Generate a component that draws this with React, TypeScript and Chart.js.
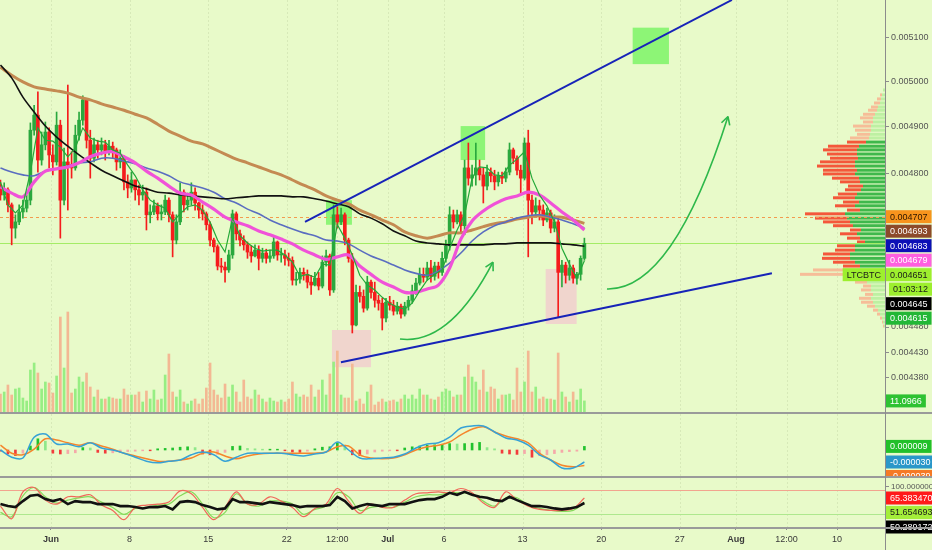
import React, { useEffect, useRef } from 'react';
import { Chart, registerables } from 'chart.js';

Chart.register(...registerables);

// ================= DATA =================
// x axis: days counted from 1 June
const xTickDays = [0, 7, 14, 21, 25.5, 30, 35, 42, 49, 56, 61, 65.5, 70];
const xTickLabels = ['Jun', '8', '15', '22', '12:00', 'Jul', '6', '13', '20', '27', 'Aug', '12:00', '10'];
const monthLabels = ['Jun', 'Jul', 'Aug'];
const viewDays = [-4.54, 74.27];

// 8-hour candles, prices in micro-BTC (1e-6 BTC)
const candleStartDay = -4.5;
const candleStepDays = 1 / 3;
const opens = [4774,
  4753,4764,4732,4683,4696,4717,4725,4742,4893,4926,
  4828,4861,4889,4839,4824,4904,4742,4824,4817,4811,
  4882,4915,4960,4871,4832,4861,4850,4861,4846,4858,
  4850,4824,4832,4781,4768,4785,4764,4753,4759,4711,
  4717,4730,4713,4717,4742,4711,4658,4696,4759,4732,
  4742,4759,4736,4721,4713,4690,4658,4644,4604,4602,
  4596,4627,4713,4671,4658,4648,4633,4625,4637,4620,
  4631,4620,4625,4654,4627,4627,4620,4616,4575,4577,
  4591,4587,4571,4565,4579,4563,4612,4625,4555,4711,
  4696,4711,4658,4620,4484,4550,4542,4518,4571,4550,
  4534,4528,4498,4530,4524,4512,4522,4506,4522,4534,
  4553,4569,4587,4581,4600,4583,4604,4591,4620,4646,
  4711,4696,4711,4688,4811,4789,4796,4811,4796,4772,
  4802,4794,4781,4794,4789,4802,4850,4832,4806,4789,
  4865,4742,4717,4730,4721,4700,4715,4683,4696,4591,
  4606,4585,4600,4579,4587,4620];
const highs = [
  4785,4779,4768,4736,4711,4732,4742,4753,4909,4948,
  4978,4889,4911,4898,4861,4933,4915,4854,4993,4846,
  4904,4933,4969,4960,4893,4876,4871,4876,4871,4871,
  4867,4854,4850,4837,4796,4802,4785,4774,4774,4768,
  4732,4742,4736,4732,4753,4747,4717,4711,4779,4764,
  4757,4779,4768,4738,4732,4717,4696,4662,4648,4620,
  4612,4637,4721,4717,4679,4667,4654,4646,4648,4646,
  4641,4639,4637,4667,4656,4641,4637,4631,4623,4591,
  4600,4600,4596,4585,4591,4591,4625,4637,4629,4732,
  4728,4725,4715,4662,4630,4565,4563,4555,4583,4575,
  4571,4544,4538,4538,4542,4534,4530,4526,4530,4542,
  4565,4579,4600,4600,4612,4616,4612,4612,4633,4658,
  4728,4721,4721,4717,4828,4865,4817,4865,4828,4811,
  4817,4811,4806,4802,4802,4811,4865,4854,4837,4817,
  4876,4893,4753,4747,4742,4732,4725,4721,4711,4704,
  4616,4612,4616,4606,4591,4625,4662];
const lows = [
  4742,4742,4717,4648,4662,4690,4704,4717,4732,4882,
  4802,4817,4850,4811,4796,4817,4662,4732,4721,4789,
  4806,4871,4904,4854,4789,4824,4832,4839,4828,4839,
  4832,4806,4811,4764,4747,4759,4742,4732,4742,4679,
  4694,4711,4700,4700,4711,4696,4623,4650,4690,4717,
  4721,4732,4721,4704,4700,4679,4646,4633,4596,4591,
  4571,4591,4620,4658,4646,4637,4620,4612,4623,4596,
  4612,4610,4612,4620,4616,4612,4606,4604,4565,4565,
  4569,4575,4559,4546,4563,4555,4559,4604,4544,4550,
  4683,4690,4648,4612,4468,4482,4530,4510,4514,4538,
  4520,4514,4474,4490,4514,4504,4506,4498,4502,4514,
  4528,4546,4565,4571,4575,4571,4575,4579,4585,4612,
  4637,4683,4692,4675,4669,4774,4772,4774,4785,4736,
  4764,4781,4764,4772,4777,4781,4796,4820,4796,4757,
  4785,4623,4692,4711,4700,4688,4696,4673,4675,4500,
  4561,4569,4575,4569,4567,4575,4616];
const closes = [
  4753,4764,4732,4683,4696,4717,4725,4742,4893,4926,
  4828,4861,4889,4839,4824,4904,4742,4824,4817,4811,
  4882,4915,4960,4871,4832,4861,4850,4861,4846,4858,
  4850,4824,4832,4781,4768,4785,4764,4753,4759,4711,
  4717,4730,4713,4717,4742,4711,4658,4696,4759,4732,
  4742,4759,4736,4721,4713,4690,4658,4644,4604,4602,
  4596,4627,4713,4671,4658,4648,4633,4625,4637,4620,
  4631,4620,4625,4654,4627,4627,4620,4616,4575,4577,
  4591,4587,4571,4565,4579,4563,4612,4625,4555,4711,
  4696,4711,4658,4620,4484,4550,4542,4518,4571,4550,
  4534,4528,4498,4530,4524,4512,4522,4506,4522,4534,
  4553,4569,4587,4581,4600,4583,4604,4591,4620,4646,
  4711,4696,4711,4688,4811,4789,4796,4811,4796,4772,
  4802,4794,4781,4794,4789,4802,4850,4832,4806,4789,
  4865,4742,4717,4730,4721,4700,4715,4683,4696,4591,
  4606,4585,4600,4579,4587,4620,4651];
const volumes = [
  18,20,27,17,23,24,14,11,42,49,
  39,23,30,29,19,36,95,44,100,19,
  23,35,30,39,25,15,22,13,13,15,
  14,13,13,23,17,17,17,20,10,21,
  13,22,12,13,37,58,20,15,22,10,
  8,11,13,8,13,24,49,22,17,14,
  28,15,27,20,10,32,15,13,22,17,
  13,10,14,11,10,12,10,13,30,18,
  15,17,15,27,15,22,32,17,38,50,
  61,17,14,14,48,11,13,8,20,27,
  7,10,13,10,11,12,10,13,17,13,
  17,13,23,17,17,13,12,15,20,23,
  21,15,17,17,35,47,35,30,22,42,
  20,25,23,13,17,17,18,12,44,20,
  30,61,20,25,13,15,13,13,12,59,
  20,15,10,20,12,23,11.0966];

// fast series sampled every 2 candles
const fastStartDay = -4.5;
const fastStepDays = 2 / 3;
const greenMa = [
  4781,4732,4715,4732,4802,4898,4871,4869,4856,4835,
  4854,4898,4876,4869,4867,4850,4843,4817,4794,4764,
  4742,4732,4725,4696,4713,4728,4732,4721,4696,4658,
  4633,4704,4667,4652,4641,4635,4637,4637,4627,4612,
  4583,4587,4581,4608,4606,4690,4662,4627,4585,4565,
  4555,4540,4528,4520,4516,4528,4553,4575,4587,4596,
  4641,4679,4711,4789,4813,4811,4796,4794,4817,4830,
  4846,4789,4753,4730,4696,4641,4608,4579,4615];
const macdHist = [
  -3,-10,-14,-8,10,28,22,-8,-10,-9,
  -7,6,5,-6,-8,-7,-6,-4,-3,-2,
  -2,3,4,5,7,8,6,-10,-12,-11,
  -6,9,10,4,3,2,2,2,-2,-5,
  -6,-3,3,7,8,18,12,-12,-14,-10,
  -5,-3,-2,-2,5,8,10,12,13,14,
  16,15,16,17,19,6,3,-8,-10,-11,
  -9,-18,-14,-12,-9,-6,-4,-3,9];
const rsiLine = [
  47,41,38,56,72,75,62,56,62,47,
  56,53,53,47,47,47,41,41,38,34,
  38,38,41,31,53,56,53,44,38,31,
  34,62,53,53,50,47,53,50,47,44,
  38,41,41,41,44,69,56,34,41,47,
  44,41,47,47,47,53,59,62,62,69,
  81,75,84,75,69,66,59,56,69,59,
  50,41,41,38,34,31,34,38,50.289172];

// slow series sampled daily
const slowStartDay = -4.5;
const slowStepDays = 1;
const pinkMa = [
  4770,4757,4749,4781,4804,4809,4813,4822,4835,4843,
  4846,4835,4822,4804,4789,4772,4757,4753,4738,4723,
  4706,4696,4688,4677,4669,4660,4650,4637,4627,4618,
  4623,4627,4604,4587,4571,4561,4550,4550,4557,4565,
  4600,4660,4698,4719,4734,4745,4751,4759,4753,4736,
  4717,4700,4679];
const blueMa = [
  4811,4802,4796,4794,4804,4809,4815,4822,4824,4832,
  4832,4826,4820,4811,4804,4794,4781,4774,4768,4759,
  4745,4736,4723,4713,4700,4690,4681,4673,4667,4658,
  4656,4650,4637,4625,4616,4606,4596,4589,4585,4594,
  4610,4631,4656,4675,4688,4696,4704,4709,4711,4706,
  4700,4692,4683];
const blackMa = [
  5038,5009,4966,4933,4902,4878,4858,4839,4822,4806,
  4794,4783,4772,4766,4759,4757,4753,4751,4749,4747,
  4745,4747,4749,4751,4751,4751,4749,4749,4745,4740,
  4734,4728,4713,4704,4692,4677,4667,4656,4652,4650,
  4648,4648,4648,4648,4650,4650,4652,4652,4652,4652,
  4650,4648,4645];
const brownMa = [
  5033,5015,5000,4989,4984,4980,4975,4966,4960,4951,
  4944,4937,4928,4920,4906,4891,4880,4869,4863,4852,
  4841,4830,4822,4813,4804,4796,4785,4774,4764,4751,
  4742,4734,4721,4711,4700,4690,4675,4667,4662,4667,
  4673,4673,4679,4686,4692,4696,4702,4706,4709,4706,
  4706,4700,4693];
const macdLine = [
  0,-18,-20,32,40,15,15,8,18,5,
  0,-8,-18,-28,-32,-28,-25,-12,-5,-12,
  -28,-18,-8,-8,-8,-8,-12,-15,-10,-5,
  20,0,-20,-22,-20,-18,-10,5,15,18,
  32,55,60,60,45,30,25,12,-12,-25,
  -45,-45,-30];
const signalLine = [
  12,-8,-12,2,28,25,18,12,18,10,
  2,-8,-15,-22,-28,-28,-25,-20,-8,-5,
  -15,-22,-15,-10,-8,-8,-8,-8,-8,-5,
  8,10,-12,-20,-22,-20,-12,0,8,12,
  20,38,52,58,45,35,28,18,-8,-25,
  -38,-42,-39];
const stochK = [
  41,3,84,97,59,47,69,69,75,44,
  28,0,37,44,47,53,87,78,37,0,
  37,84,47,47,69,56,37,9,34,47,
  94,56,19,47,37,37,59,78,81,84,
  81,94,81,50,37,84,59,41,31,28,
  28,34,65.38347];
const stochD = [
  22,9,72,97,69,50,59,66,69,53,
  37,16,34,37,44,47,72,84,47,6,
  22,78,47,41,56,56,47,16,31,41,
  81,69,28,37,41,37,53,69,75,75,
  81,81,78,56,41,66,66,44,34,28,
  25,28,51.654693];
const rsiBands = [90, 18];

// volume profile (price rows in micro-BTC, up / down volume)
const vpPrices = [
  4982,4971,4962,4953,4944,4937,4928,4920,4911,4902,
  4893,4884,4876,4867,4858,4850,4841,4832,4824,4815,
  4806,4798,4789,4781,4772,4764,4755,4747,4738,4730,
  4721,4713,4704,4696,4688,4679,4671,4662,4654,4646,
  4637,4629,4620,4612,4604,4596,4587,4579,4571,4563,
  4555,4546,4538,4530,4522,4514,4506,4498,4490,4482];
const vpUp = [
  2,3,4,5,7,8,10,12,12,14,
  14,15,16,19,26,28,28,27,30,30,
  28,30,26,25,22,24,28,30,26,30,
  25,40,38,35,32,24,28,25,20,30,
  30,35,35,30,25,30,35,22,18,14,
  14,12,14,12,10,7,5,3,2,1];
const vpDown = [
  0,2,4,6,7,9,12,13,10,18,
  16,13,19,19,31,34,30,28,35,38,
  34,32,27,20,15,16,19,22,16,20,
  13,40,32,27,20,11,17,13,8,18,
  20,27,28,22,17,42,50,18,12,8,
  10,8,12,12,8,5,3,2,1,1];
const valueArea = [4604, 4867];

const dashedLevel = 4707;
const symbolTag = 'LTCBTC';
const countdownText = '01:03:12';
const priceTicks = [5100, 5000, 4900, 4800, 4480, 4430, 4380];
const priceRange = [4312.6, 5186.9];
const volumeRange = [0, 412];
const macdRange = [-65, 90];
const rsiRange = [-22, 125.6];
const rsiTicks = [100];

// drawings in (day, price) coordinates
const upperTrend = [[22.62, 4696], [60.64, 5187]];
const lowerTrend = [[25.82, 4410], [64.2, 4589]];
const greenBoxes = [[24.49, 26.8, 4742, 4690], [36.48, 38.66, 4902, 4828], [51.8, 55.03, 5123, 5040]];
const pinkBoxes = [[25.02, 28.5, 4474, 4400], [44.05, 46.81, 4598, 4486]];
const curvedArrows = [
  [[49.51, 4557], [55.34, 4553], [60.29, 4923]],
  [[31.08, 4456], [35.49, 4443], [39.36, 4612]],
];

// ================= STYLE =================
const FONT = "'Liberation Sans Narrow', 'Liberation Sans', 'DejaVu Sans', sans-serif";
const BG = '#e8fac9';
const AXIS_W = 47;
const UP = '#2aa83e';
const DOWN = '#f51c1c';

const series = (start: number, step: number, vals: number[]) => vals.map((y, i) => ({ x: start + i * step, y }));
const candleX = opens.map((_, i) => candleStartDay + i * candleStepDays);
const isUp = (i: number) => closes[i] >= opens[i];
const fmt6 = (v: number) => (v * 1e-6).toFixed(6);
const last = (a: number[]) => a[a.length - 1];

function baseOptions(padBottom: number) {
  return {
    responsive: false,
    animation: false,
    events: [],
    layout: { padding: { left: 0, right: 0, top: 0, bottom: padBottom } },
    plugins: { legend: { display: false }, tooltip: { enabled: false } },
  };
}

function hiddenX() {
  return { type: 'linear', min: viewDays[0], max: viewDays[1], offset: false, display: false };
}

function rightAxis(min: number, max: number, ticks: number[] | null, cb: (v: number) => string, type = 'linear', fontSize = 9) {
  return {
    type,
    position: 'right',
    min,
    max,
    beginAtZero: false,
    afterFit: (s: any) => { s.width = AXIS_W; s.paddingTop = 0; s.paddingBottom = 0; },
    afterBuildTicks: (s: any) => { s.ticks = (ticks || []).map((v) => ({ value: v })); },
    border: { display: false },
    grid: { display: !!ticks, drawOnChartArea: false, drawTicks: true, tickLength: 4, tickColor: '#8c8c8c', color: 'rgba(0,0,0,0)' },
    ticks: { display: !!ticks, autoSkip: false, padding: 2, color: '#555', font: { family: FONT, size: fontSize }, callback: (v: any) => cb(Number(v)) },
  };
}

function clip(ctx: CanvasRenderingContext2D, a: any) {
  ctx.save();
  ctx.beginPath();
  ctx.rect(a.left, a.top, a.right - a.left, a.bottom - a.top);
  ctx.clip();
}

const bgPlugin = {
  id: 'bg',
  beforeDraw(chart: any) {
    const { ctx, width, height } = chart;
    ctx.save();
    ctx.fillStyle = BG;
    ctx.fillRect(0, 0, width, height);
    ctx.restore();
  },
};

const gridPlugin = {
  id: 'vgrid',
  beforeDatasetsDraw(chart: any) {
    const { ctx, chartArea } = chart;
    const x = chart.scales.x;
    clip(ctx, chartArea);
    ctx.strokeStyle = 'rgba(100,120,70,0.13)';
    ctx.lineWidth = 1;
    ctx.setLineDash([2, 2]);
    xTickDays.forEach((d) => {
      const px = Math.round(x.getPixelForValue(d)) + 0.5;
      ctx.beginPath();
      ctx.moveTo(px, chartArea.top);
      ctx.lineTo(px, chartArea.bottom);
      ctx.stroke();
    });
    ctx.restore();
  },
};

const framePlugin = {
  id: 'frame',
  afterDraw(chart: any) {
    const { ctx, chartArea, width, height } = chart;
    ctx.save();
    ctx.fillStyle = '#9a9a9a';
    ctx.fillRect(0, chartArea.bottom, width, 2);
    ctx.fillStyle = '#8c8c8c';
    ctx.fillRect(chartArea.right, 0, 1, height);
    ctx.restore();
  },
};

type Tag = { value: number; text: string; bg: string; fg: string; tag?: string; sub?: string };

function drawTags(chart: any, scale: any, tags: Tag[]) {
  const { ctx, chartArea } = chart;
  const h = 13;
  const gap = 1.5;
  const items = tags.map((t) => ({ ...t, y: scale.getPixelForValue(t.value) })).sort((a, b) => a.y - b.y);
  let prevBottom = -1e9;
  ctx.save();
  ctx.font = `9px ${FONT}`;
  ctx.textBaseline = 'middle';
  ctx.textAlign = 'left';
  const x0 = chartArea.right + 1;
  for (const it of items) {
    const top = Math.max(it.y - h / 2, prevBottom + gap);
    const w = ctx.measureText(it.text).width + 8;
    ctx.fillStyle = it.bg;
    ctx.fillRect(x0, top, w, h);
    ctx.fillStyle = it.fg;
    ctx.fillText(it.text, x0 + 4, top + h / 2 + 0.5);
    if (it.tag) {
      const tw = ctx.measureText(it.tag).width + 8;
      ctx.fillStyle = it.bg;
      ctx.fillRect(chartArea.right - tw, top, tw, h);
      ctx.fillStyle = it.fg;
      ctx.fillText(it.tag, chartArea.right - tw + 4, top + h / 2 + 0.5);
    }
    prevBottom = top + h;
    if (it.sub) {
      const t2 = prevBottom + gap;
      const sw = ctx.measureText(it.sub).width + 8;
      ctx.fillStyle = it.bg;
      ctx.fillRect(x0 + 3, t2, sw, h);
      ctx.fillStyle = it.fg;
      ctx.fillText(it.sub, x0 + 7, t2 + h / 2 + 0.5);
      prevBottom = t2 + h;
    }
  }
  ctx.restore();
}

const mainDrawings = {
  id: 'mainDrawings',
  beforeDatasetsDraw(chart: any) {
    const { ctx, chartArea } = chart;
    const x = chart.scales.x;
    const y = chart.scales.y;
    clip(ctx, chartArea);
    ctx.fillStyle = '#f0d5cd';
    pinkBoxes.forEach(([d0, d1, p0, p1]) => {
      const a = x.getPixelForValue(d0), b = x.getPixelForValue(d1);
      const c = y.getPixelForValue(p0), e = y.getPixelForValue(p1);
      ctx.fillRect(a, c, b - a, e - c);
    });
    ctx.fillStyle = '#8df576';
    greenBoxes.forEach(([d0, d1, p0, p1]) => {
      const a = x.getPixelForValue(d0), b = x.getPixelForValue(d1);
      const c = y.getPixelForValue(p0), e = y.getPixelForValue(p1);
      ctx.fillRect(a, c, b - a, e - c);
    });
    const right = chartArea.right;
    vpPrices.forEach((p, i) => {
      const py = y.getPixelForValue(p);
      const inVA = p >= valueArea[0] && p <= valueArea[1];
      ctx.fillStyle = inVA ? '#3fb84b' : '#bdf0a2';
      ctx.fillRect(right - vpUp[i], py - 1.5, vpUp[i], 3);
      ctx.fillStyle = inVA ? '#f4573a' : '#f6bd98';
      ctx.fillRect(right - vpUp[i] - vpDown[i], py - 1.5, vpDown[i], 3);
    });
    const ly = Math.round(y.getPixelForValue(dashedLevel)) + 0.5;
    ctx.strokeStyle = '#f39a4e';
    ctx.lineWidth = 1;
    ctx.setLineDash([3, 3]);
    ctx.beginPath();
    ctx.moveTo(chartArea.left, ly);
    ctx.lineTo(chartArea.right, ly);
    ctx.stroke();
    ctx.setLineDash([]);
    const cy = Math.round(y.getPixelForValue(last(closes))) + 0.5;
    ctx.strokeStyle = '#a4ec66';
    ctx.beginPath();
    ctx.moveTo(chartArea.left, cy);
    ctx.lineTo(chartArea.right, cy);
    ctx.stroke();
    ctx.restore();
  },
  afterDatasetsDraw(chart: any) {
    const { ctx, chartArea } = chart;
    const x = chart.scales.x;
    const y = chart.scales.y;
    const pt = (d: number[]) => ({ x: x.getPixelForValue(d[0]), y: y.getPixelForValue(d[1]) });
    clip(ctx, chartArea);
    ctx.strokeStyle = '#1723b8';
    ctx.lineWidth = 2;
    [upperTrend, lowerTrend].forEach((ln) => {
      const a = pt(ln[0]), b = pt(ln[1]);
      ctx.beginPath();
      ctx.moveTo(a.x, a.y);
      ctx.lineTo(b.x, b.y);
      ctx.stroke();
    });
    ctx.strokeStyle = '#2db84a';
    ctx.lineWidth = 1.6;
    curvedArrows.forEach(([s, c, e]) => {
      const a = pt(s), k = pt(c), b = pt(e);
      ctx.beginPath();
      ctx.moveTo(a.x, a.y);
      ctx.quadraticCurveTo(k.x, k.y, b.x, b.y);
      ctx.stroke();
      const ang = Math.atan2(b.y - k.y, b.x - k.x);
      [-1, 1].forEach((sg) => {
        const t = ang + Math.PI + sg * 0.5;
        ctx.beginPath();
        ctx.moveTo(b.x, b.y);
        ctx.lineTo(b.x + 9 * Math.cos(t), b.y + 9 * Math.sin(t));
        ctx.stroke();
      });
    });
    ctx.restore();
  },
  afterDraw(chart: any) {
    const y = chart.scales.y;
    drawTags(chart, y, [
      { value: dashedLevel, text: fmt6(dashedLevel), bg: '#f7941d', fg: '#2b1600' },
      { value: last(brownMa), text: fmt6(last(brownMa)), bg: '#8c4a2a', fg: '#ffffff' },
      { value: last(blueMa), text: fmt6(last(blueMa)), bg: '#0c10b6', fg: '#ffffff' },
      { value: last(pinkMa), text: fmt6(last(pinkMa)), bg: '#ff5fe0', fg: '#ffffff' },
      { value: last(closes), text: fmt6(last(closes)), bg: '#9def2e', fg: '#1a1a1a', tag: symbolTag, sub: countdownText },
      { value: last(blackMa), text: fmt6(last(blackMa)), bg: '#000000', fg: '#ffffff' },
      { value: last(greenMa), text: fmt6(last(greenMa)), bg: '#22b736', fg: '#ffffff' },
    ]);
    drawTags(chart, chart.scales.yv, [
      { value: last(volumes), text: last(volumes).toFixed(4), bg: '#2ec232', fg: '#ffffff' },
    ]);
  },
};

const macdDrawings = {
  id: 'macdDrawings',
  afterDraw(chart: any) {
    drawTags(chart, chart.scales.y, [
      { value: last(macdHist), text: fmt6(last(macdHist)), bg: '#22c02a', fg: '#ffffff' },
      { value: last(macdLine), text: fmt6(last(macdLine)), bg: '#2a97c9', fg: '#ffffff' },
      { value: last(signalLine), text: fmt6(last(signalLine)), bg: '#f57a26', fg: '#ffffff' },
    ]);
  },
};

const rsiDrawings = {
  id: 'rsiDrawings',
  beforeDatasetsDraw(chart: any) {
    const { ctx, chartArea } = chart;
    const y = chart.scales.y;
    clip(ctx, chartArea);
    ctx.lineWidth = 1;
    [['#f2a48e', rsiBands[0]], ['#aee88e', rsiBands[1]]].forEach(([col, v]) => {
      const py = Math.round(y.getPixelForValue(v as number)) + 0.5;
      ctx.strokeStyle = col as string;
      ctx.beginPath();
      ctx.moveTo(chartArea.left, py);
      ctx.lineTo(chartArea.right, py);
      ctx.stroke();
    });
    ctx.restore();
  },
  afterDraw(chart: any) {
    drawTags(chart, chart.scales.y, [
      { value: last(stochK), text: last(stochK).toFixed(6), bg: '#ff1a1a', fg: '#ffffff' },
      { value: last(stochD), text: last(stochD).toFixed(6), bg: '#a4ee3a', fg: '#1a1a1a' },
      { value: last(rsiLine), text: last(rsiLine).toFixed(6), bg: '#000000', fg: '#ffffff' },
    ]);
  },
};

function lineDs(data: any[], color: string, width: number, order: number, tension = 0.35, yAxisID = 'y') {
  return { type: 'line', data, borderColor: color, borderWidth: width, pointRadius: 0, tension, order, yAxisID, fill: false };
}

function mainConfig(): any {
  const candleColor = (c: any) => (isUp(c.dataIndex) ? UP : DOWN);
  return {
    type: 'bar',
    data: {
      datasets: [
        { type: 'bar', yAxisID: 'yv', order: 10, grouped: false, barThickness: 2,
          data: candleX.map((x, i) => ({ x, y: volumes[i] })),
          backgroundColor: (c: any) => (isUp(c.dataIndex) ? '#97ee83' : '#f3b893') },
        { type: 'bar', yAxisID: 'y', order: 9, grouped: false, barThickness: 1,
          data: candleX.map((x, i) => ({ x, y: [lows[i], highs[i]] })), backgroundColor: candleColor },
        { type: 'bar', yAxisID: 'y', order: 8, grouped: false, barThickness: 3, minBarLength: 1,
          data: candleX.map((x, i) => ({ x, y: [opens[i], closes[i]] })), backgroundColor: candleColor },
        lineDs(series(slowStartDay, slowStepDays, brownMa), '#c48a52', 3, 7),
        lineDs(series(slowStartDay, slowStepDays, blueMa), '#5a6dc0', 1.6, 6),
        lineDs(series(slowStartDay, slowStepDays, blackMa), '#111111', 1.6, 5),
        lineDs(series(slowStartDay, slowStepDays, pinkMa), '#f052d8', 3.2, 4),
        lineDs(series(fastStartDay, fastStepDays, greenMa), '#23a838', 1.2, 3, 0),
      ],
    },
    options: {
      ...baseOptions(2),
      scales: {
        x: hiddenX(),
        y: rightAxis(priceRange[0], priceRange[1], priceTicks, fmt6, 'logarithmic'),
        yv: { type: 'linear', display: false, min: volumeRange[0], max: volumeRange[1] },
      },
    },
    plugins: [bgPlugin, gridPlugin, mainDrawings, framePlugin],
  };
}

function macdConfig(): any {
  const histColor = (c: any) => {
    const i = c.dataIndex;
    const v = macdHist[i];
    const p = i > 0 ? macdHist[i - 1] : v;
    if (v >= 0) return v >= p ? '#22c22e' : '#8fe88a';
    return v <= p ? '#f23c3c' : '#f5a9a9';
  };
  return {
    type: 'bar',
    data: {
      datasets: [
        { type: 'bar', order: 3, grouped: false, barThickness: 2,
          data: series(fastStartDay, fastStepDays, macdHist), backgroundColor: histColor },
        lineDs(series(slowStartDay, slowStepDays, signalLine), '#f5862c', 1.5, 2),
        lineDs(series(slowStartDay, slowStepDays, macdLine), '#36a2d6', 1.5, 1),
      ],
    },
    options: {
      ...baseOptions(2),
      scales: {
        x: hiddenX(),
        y: rightAxis(macdRange[0], macdRange[1], null, fmt6),
      },
    },
    plugins: [bgPlugin, gridPlugin, macdDrawings, framePlugin],
  };
}

function rsiConfig(): any {
  return {
    type: 'line',
    data: {
      datasets: [
        lineDs(series(slowStartDay, slowStepDays, stochD), '#86d95a', 1.2, 3),
        lineDs(series(slowStartDay, slowStepDays, stochK), '#f0685a', 1.2, 2),
        lineDs(series(fastStartDay, fastStepDays, rsiLine), '#111111', 2.6, 1, 0),
      ],
    },
    options: {
      ...baseOptions(0),
      scales: {
        x: {
          type: 'linear', min: viewDays[0], max: viewDays[1], offset: false,
          afterBuildTicks: (s: any) => { s.ticks = xTickDays.map((v) => ({ value: v })); },
          afterFit: (s: any) => { s.height = 23; s.paddingLeft = 0; s.paddingRight = 0; },
          border: { display: false },
          grid: { display: true, drawOnChartArea: false, drawTicks: true, tickLength: 3, tickColor: '#8c8c8c', color: 'rgba(0,0,0,0)' },
          ticks: {
            autoSkip: false, maxRotation: 0, padding: 4, color: '#3a3a3a',
            font: (c: any) => ({ family: FONT, size: 9, weight: monthLabels.includes(xTickLabels[c.index]) ? 'bold' : 'normal' }),
            callback: (_v: any, i: number) => xTickLabels[i],
          },
        },
        y: rightAxis(rsiRange[0], rsiRange[1], rsiTicks, (v) => v.toFixed(6), 'linear', 8),
      },
    },
    plugins: [bgPlugin, gridPlugin, rsiDrawings, framePlugin],
  };
}

function Pane({ top, height, config }: { top: number; height: number; config: () => any }) {
  const ref = useRef<HTMLCanvasElement | null>(null);
  useEffect(() => {
    const chart = new Chart(ref.current as HTMLCanvasElement, config());
    return () => chart.destroy();
  }, []);
  return (
    <canvas ref={ref} width={932} height={height}
      style={{ position: 'absolute', left: 0, top, width: 932, height, display: 'block' }} />
  );
}

export default function App() {
  return (
    <div style={{ position: 'fixed', left: 0, top: 0, width: 932, height: 550, background: BG, overflow: 'hidden' }}>
      <Pane top={0} height={414} config={mainConfig} />
      <Pane top={414} height={64} config={macdConfig} />
      <Pane top={478} height={72} config={rsiConfig} />
    </div>
  );
}
